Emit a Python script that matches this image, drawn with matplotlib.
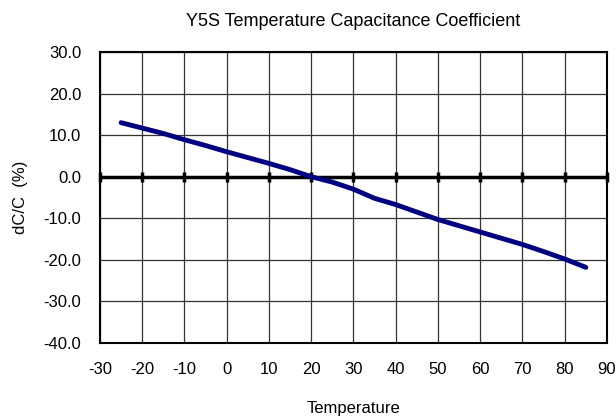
import matplotlib
matplotlib.use("Agg")
import matplotlib.pyplot as plt
import numpy as np

temperature = [-25, -20, -15, -10, -5, 0, 5, 10, 15, 20, 25, 30, 35, 40, 45, 50, 55, 60, 65, 70, 75, 80, 85]
dc_c = [13.0, 11.7, 10.4, 8.9, 7.5, 6.0, 4.6, 3.2, 1.7, 0.0, -1.3, -3.0, -5.2, -6.7, -8.5, -10.3, -11.8, -13.3, -14.8, -16.3, -18.0, -19.8, -21.8]

x_ticks = [-30, -20, -10, 0, 10, 20, 30, 40, 50, 60, 70, 80, 90]
y_ticks = [-40, -30, -20, -10, 0, 10, 20, 30]
y_ticklabels = ["-40.0", "-30.0", "-20.0", "-10.0", "0.0", "10.0", "20.0", "30.0"]

plt.rcParams['font.family'] = ['Liberation Sans', 'DejaVu Sans']
plt.rcParams['axes.unicode_minus'] = False

fig = plt.figure(figsize=(6.16, 4.19), dpi=100)
ax = fig.add_axes([0.1623, 0.1814, 0.823, 0.6945])

ax.set_xlim(-30, 90)
ax.set_ylim(-40, 30)
ax.set_xticks(x_ticks)
ax.set_xticklabels([str(v) for v in x_ticks])
ax.set_yticks(y_ticks)
ax.set_yticklabels(y_ticklabels)
ax.tick_params(axis='x', length=0, labelsize=12, pad=14)
ax.tick_params(axis='y', length=0, labelsize=12, pad=13.5)
ax.grid(True, color='#333333', linewidth=0.9)
ax.set_axisbelow(True)
for s in ax.spines.values():
    s.set_linewidth(1.5)
    s.set_color('black')

ax.axhline(0, color='black', linewidth=2.5, zorder=2)
ax.plot(x_ticks, [0] * len(x_ticks), linestyle='none', marker='|', markersize=7,
        markeredgewidth=2.5, color='black', zorder=2, clip_on=False)

ax.plot(temperature, dc_c, color='#000080', linewidth=3.5, solid_capstyle='round', zorder=3)

ax.set_title("Y5S Temperature Capacitance Coefficient", fontsize=13, pad=19)
ax.set_xlabel("Temperature", fontsize=12, labelpad=17)
ax.set_ylabel("dC/C  (%)", fontsize=12, labelpad=11)

fig.savefig("out.png", dpi=100)
